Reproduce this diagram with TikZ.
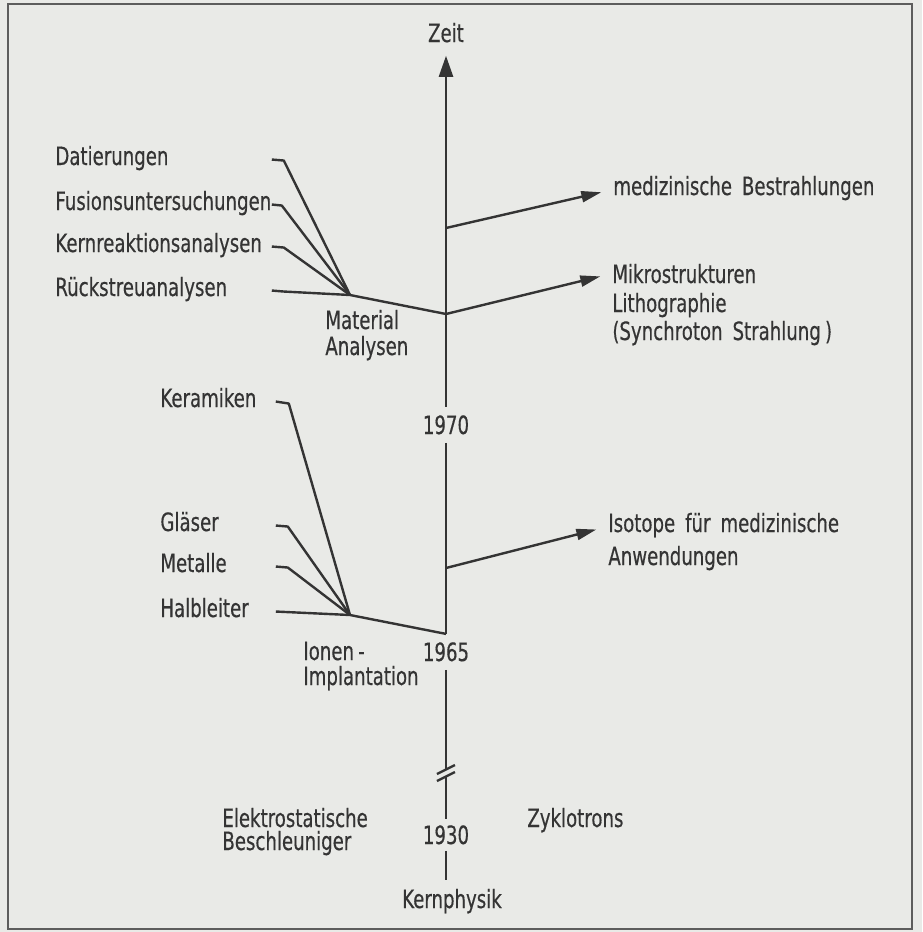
\documentclass[tikz,border=0pt]{standalone}
\usepackage{fontspec}
\setmainfont[FakeStretch=0.72,FakeBold=0.4]{DejaVu Sans}
\usetikzlibrary{arrows.meta,positioning}

\definecolor{ink}{RGB}{52,52,52}
\definecolor{paper}{RGB}{233,234,231}

\tikzset{
  lbl/.style={anchor=base west, inner sep=0pt, text=ink},
  fanlbl/.style={lbl, text width=#1, align=left},
  yearlbl/.style={anchor=base, inner sep=4pt, text=ink},
  leader/.style={line width=1.2pt, draw=ink, line join=round},
  branch/.style={leader, -{Triangle[length=10pt,width=5.5pt]}, shorten >=6pt},
}

\begin{document}
\begin{tikzpicture}[x=0.5pt, y=-0.5pt, font=\fontsize{12.6}{15}\selectfont]
    % Page and frame
    \fill[paper] (0,0) rectangle (922,932);
    \useasboundingbox (0,0) rectangle (922,932);
    \draw[ink!80, line width=0.8pt] (8,4) rectangle (912,929);

    % Time axis labels
    \node[yearlbl, inner sep=0pt] (zeit) at (446,42) {Zeit};
    \node[yearlbl] (y1970) at (446,434) {1970};
    \node[yearlbl] (y1965) at (446,661) {1965};
    \node[yearlbl, inner sep=3pt] (y1930) at (446,844) {1930};
    \node[yearlbl] (kern) at (452,908) {Kernphysik};

    % Points on the axis
    \coordinate (a-med) at (446,228);
    \coordinate (a-mat) at (446,314);
    \coordinate (a-iso) at (446,568);
    \coordinate (brk-hi) at (446,770);
    \coordinate (brk-lo) at (446,777);

    % Axis, in pieces between the years
    \draw[leader, -{Triangle[length=10.5pt,width=7pt]}] (y1970.north) -- ([yshift=-6.5pt]zeit.south);
    \draw[leader] (y1970.south) -- (y1965.north);
    \draw[leader] (y1965.south) -- (brk-hi);
    \draw[leader] (brk-lo) -- (y1930.north);
    \draw[leader] (y1930.south) -- (kern.north -| y1930.south);

    % Break marks
    \draw[leader] ([xshift=-4.5pt,yshift=-2pt]brk-hi) -- ([xshift=4.5pt,yshift=2.5pt]brk-hi);
    \draw[leader] ([xshift=-4.5pt,yshift=-2pt]brk-lo) -- ([xshift=4.5pt,yshift=2.5pt]brk-lo);

    % Material Analysen fan
    \node[fanlbl=108pt] (dat) at (55,165) {Datierungen};
    \node[fanlbl=108pt] (fus) at (55,210) {Fusionsuntersuchungen};
    \node[fanlbl=108pt] (kra) at (55,252) {Kernreaktionsanalysen};
    \node[fanlbl=108pt] (rue) at (55,296) {Rückstreuanalysen};
    \coordinate (mat) at (350,295);
    \draw[leader] (dat.mid east) -- ++(12,1) -- (mat);
    \draw[leader] (fus.mid east) -- ++(10,1) -- (mat);
    \draw[leader] (kra.mid east) -- ++(12,1) -- (mat);
    \draw[leader] (rue.mid east) -- ++(12,1) -- (mat);
    \draw[leader] (mat) -- (a-mat);
    \node[lbl] (mat1) at (325,329) {Material};
    \node[lbl] (mat2) at (325,355) {Analysen};

    % Ionen-Implantation fan
    \node[fanlbl=57.5pt] (ker) at (160,407) {Keramiken};
    \node[fanlbl=57.5pt] (gla) at (160,531) {Gläser};
    \node[fanlbl=57.5pt] (met) at (160,572) {Metalle};
    \node[fanlbl=57.5pt] (hal) at (160,617) {Halbleiter};
    \coordinate (ion) at (350,615);
    \draw[leader] (ker.mid east) -- ++(13,2) -- (ion);
    \draw[leader] (gla.mid east) -- ++(12,1) -- (ion);
    \draw[leader] (met.mid east) -- ++(12,1) -- (ion);
    \draw[leader] (hal.mid east) -- (ion);
    \draw[leader] (ion) -- (y1965.north);
    \node[lbl] (ion1) at (303,660) {Ionen\,-};
    \node[lbl] (ion2) at (303,685) {Implantation};

    % Branches to the right
    \node[lbl] (med) at (613,195) {medizinische\, Bestrahlungen};
    \node[lbl] (mik) at (612,283) {Mikrostrukturen};
    \node[lbl] (lit) at (612,312) {Lithographie};
    \node[lbl] (syn) at (612,340) {(Synchroton\, Strahlung\,)};
    \node[lbl] (iso) at (608,532) {Isotope\, für\, medizinische};
    \node[lbl] (anw) at (608,565) {Anwendungen};
    \draw[branch] (a-med) -- (med.mid west);
    \draw[branch] (a-mat) -- ([yshift=2pt]mik.mid west);
    \draw[branch] (a-iso) -- (iso.mid west);

    % Early accelerators
    \node[lbl] (ele1) at (222,827) {Elektrostatische};
    \node[lbl] (ele2) at (222,850) {Beschleuniger};
    \node[lbl] (zyk) at (527,827) {Zyklotrons};
\end{tikzpicture}
\end{document}
